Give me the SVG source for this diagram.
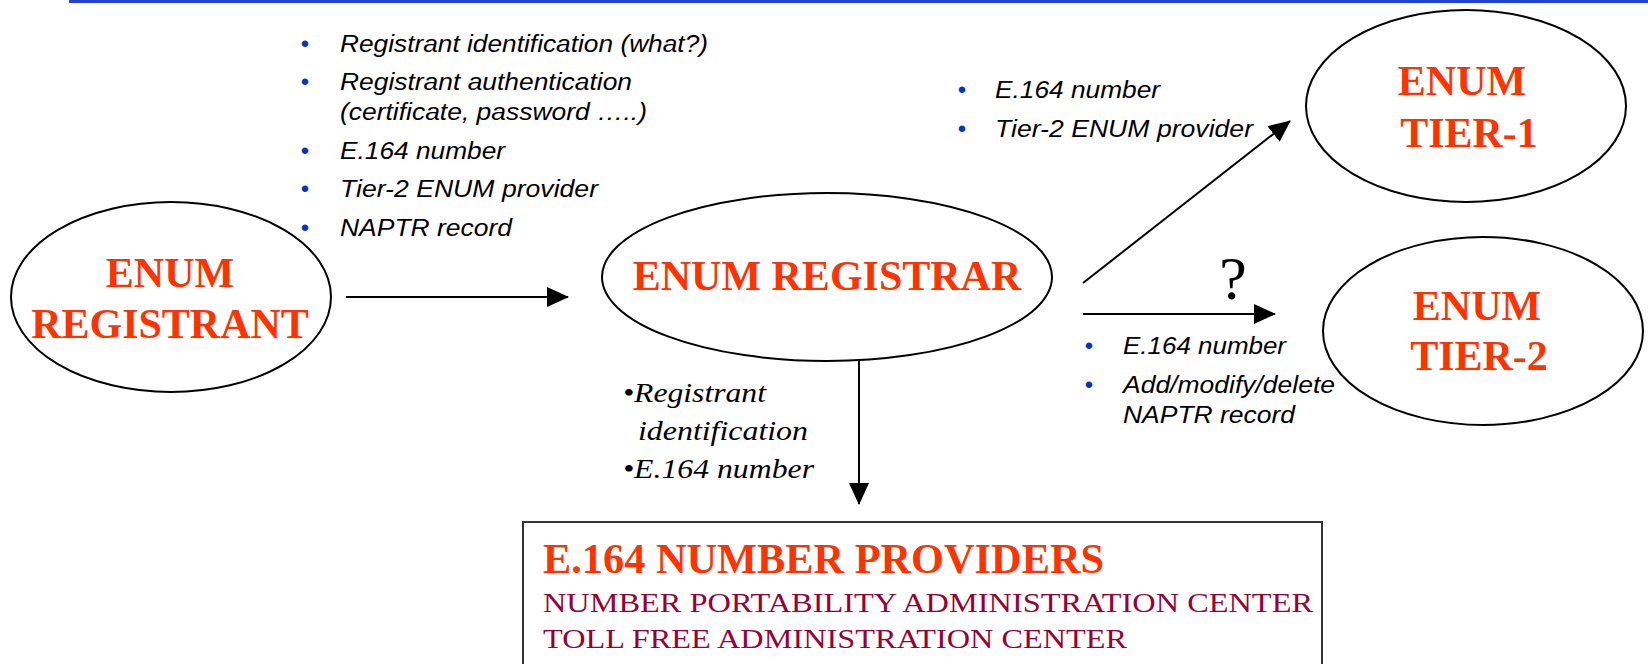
<svg xmlns="http://www.w3.org/2000/svg" width="1648" height="664" viewBox="0 0 1648 664">
<style>
.node{fill:#fff;stroke:#000;stroke-width:2}
.title{font-family:"Liberation Serif","Times New Roman",serif;font-weight:bold;font-size:42px;fill:#ff3300;text-anchor:middle}
.it{font-family:"Liberation Sans",Arial,sans-serif;font-style:italic;font-size:23.5px;fill:#000}
.bul{font-family:"Liberation Sans",Arial,sans-serif;font-size:24px;fill:#0033cc;text-anchor:middle}
.sit{font-family:"Liberation Serif","Times New Roman",serif;font-style:italic;font-size:26.5px;fill:#000}
.sub{font-family:"Liberation Serif","Times New Roman",serif;font-size:28px;fill:#990033}
.conn{stroke:#000;stroke-width:2;fill:none;marker-end:url(#ah)}
</style>
<defs>
<marker id="ah" markerUnits="userSpaceOnUse" markerWidth="22" markerHeight="20" refX="21" refY="10" orient="auto">
<path d="M0,0 L22,10 L0,20 Z" fill="#000"/>
</marker>
</defs>
<line x1="69" y1="1.5" x2="1648" y2="1.5" stroke="#2244cc" stroke-width="3"/>

<g id="connectors">
<line class="conn" x1="346" y1="297" x2="568" y2="297"/>
<line class="conn" x1="1083" y1="283" x2="1290" y2="121"/>
<line class="conn" x1="1083" y1="314" x2="1275" y2="314"/>
<line class="conn" x1="859" y1="361" x2="859" y2="504"/>
</g>

<g id="registrant">
<ellipse class="node" cx="171" cy="297" rx="160" ry="95"/>
<text class="title" x="170" y="287">ENUM</text>
<text class="title" x="170" y="338">REGISTRANT</text>
</g>

<g id="registrar">
<ellipse class="node" cx="827" cy="277" rx="225" ry="84"/>
<text class="title" x="827" y="290">ENUM REGISTRAR</text>
</g>

<g id="tier1">
<ellipse class="node" cx="1466" cy="106" rx="160" ry="96"/>
<text class="title" x="1462" y="95">ENUM</text>
<text class="title" x="1469" y="147">TIER-1</text>
</g>

<g id="tier2">
<ellipse class="node" cx="1483" cy="331" rx="160" ry="94"/>
<text class="title" x="1477" y="320">ENUM</text>
<text class="title" x="1479" y="370">TIER-2</text>
</g>

<g id="providers">
<rect x="523" y="522" width="799" height="200" fill="#fff" stroke="#333" stroke-width="2"/>
<text x="543" y="573" font-family="Liberation Serif,'Times New Roman',serif" font-weight="bold" font-size="42" fill="#ff3300" textLength="561" lengthAdjust="spacingAndGlyphs">E.164 NUMBER PROVIDERS</text>
<text class="sub" x="543" y="612" textLength="770" lengthAdjust="spacingAndGlyphs">NUMBER PORTABILITY ADMINISTRATION CENTER</text>
<text class="sub" x="543" y="648" textLength="584" lengthAdjust="spacingAndGlyphs">TOLL FREE ADMINISTRATION CENTER</text>
</g>

<g id="label-registrant-registrar">
<text class="bul" x="305" y="52">•</text>
<text class="it" x="340" y="52" textLength="368" lengthAdjust="spacingAndGlyphs">Registrant identification (what?)</text>
<text class="bul" x="305" y="90">•</text>
<text class="it" x="340" y="90" textLength="292" lengthAdjust="spacingAndGlyphs">Registrant authentication</text>
<text class="it" x="340" y="120" textLength="307" lengthAdjust="spacingAndGlyphs">(certificate, password …..)</text>
<text class="bul" x="305" y="159">•</text>
<text class="it" x="340" y="159" textLength="165" lengthAdjust="spacingAndGlyphs">E.164 number</text>
<text class="bul" x="305" y="197">•</text>
<text class="it" x="340" y="197" textLength="258" lengthAdjust="spacingAndGlyphs">Tier-2 ENUM provider</text>
<text class="bul" x="305" y="236">•</text>
<text class="it" x="340" y="236" textLength="172" lengthAdjust="spacingAndGlyphs">NAPTR record</text>
</g>

<g id="label-tier1">
<text class="bul" x="962" y="98">•</text>
<text class="it" x="995" y="98" textLength="165" lengthAdjust="spacingAndGlyphs">E.164 number</text>
<text class="bul" x="962" y="137">•</text>
<text class="it" x="995" y="137" textLength="258" lengthAdjust="spacingAndGlyphs">Tier-2 ENUM provider</text>
</g>

<g id="label-tier2">
<text x="1233" y="299" font-family="Liberation Serif,'Times New Roman',serif" font-size="62" text-anchor="middle" fill="#000">?</text>
<text class="bul" x="1089" y="354">•</text>
<text class="it" x="1123" y="354" textLength="163" lengthAdjust="spacingAndGlyphs">E.164 number</text>
<text class="bul" x="1089" y="393">•</text>
<text class="it" x="1123" y="393" textLength="212" lengthAdjust="spacingAndGlyphs">Add/modify/delete</text>
<text class="it" x="1123" y="423" textLength="172" lengthAdjust="spacingAndGlyphs">NAPTR record</text>
</g>

<g id="label-providers">
<text class="sit" x="623" y="402" textLength="143" lengthAdjust="spacingAndGlyphs">•Registrant</text>
<text class="sit" x="638" y="440" textLength="170" lengthAdjust="spacingAndGlyphs">identification</text>
<text class="sit" x="623" y="478" textLength="191" lengthAdjust="spacingAndGlyphs">•E.164 number</text>
</g>
</svg>
